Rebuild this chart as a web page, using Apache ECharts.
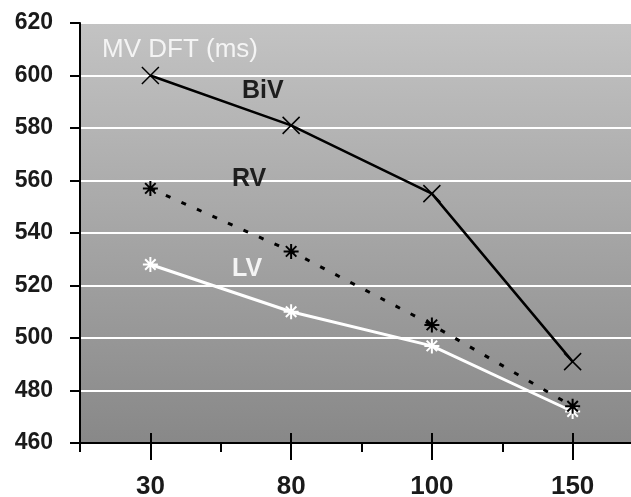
<!DOCTYPE html>
<html>
<head>
<meta charset="utf-8">
<script src="https://cdn.jsdelivr.net/npm/echarts@6/dist/echarts.min.js"></script>
<style>
  html, body { margin: 0; padding: 0; background: #fff; }
  #main { width: 631px; height: 497px; }
</style>
</head>
<body>
<div id="main"></div>
<script>
// data
var categories = ['30', '80', '100', '150'];
var bivData = [600, 581, 555, 491];
var rvData = [557, 533, 505, 474];
var lvData = [528, 510, 497, 472];
var yTicks = { min: 460, max: 620, step: 20 };

var crossPath = 'path://M0,0L10,10M10,0L0,10';
var starPath = 'path://M5,0L5,10M0,5L10,5M1.5,1.5L8.5,8.5M8.5,1.5L1.5,8.5';

var chart = echarts.init(document.getElementById('main'));

var labelFont = 'Liberation Sans, Arial, sans-serif';

// three category axes on the bottom: labels + long ticks, inner part of long ticks, short boundary ticks
function xAxisBase() {
  return {
    type: 'category',
    data: categories,
    position: 'bottom',
    boundaryGap: true,
    axisLine: { show: false, onZero: false },
    axisLabel: { show: false },
    axisTick: { show: false },
    splitLine: { show: false }
  };
}

var xMain = xAxisBase();
xMain.axisLine = { show: true, onZero: false, lineStyle: { color: '#000', width: 2 } };
xMain.axisLabel = { show: true, color: '#1a1a1a', fontFamily: labelFont, fontWeight: 'bold', fontSize: 26, margin: 31 };
xMain.axisTick = { show: true, alignWithLabel: true, length: 17, lineStyle: { color: '#000', width: 2 } };

var xInner = xAxisBase();
xInner.axisTick = { show: true, alignWithLabel: true, inside: true, length: 10, lineStyle: { color: '#000', width: 2 } };

var xMinor = xAxisBase();
xMinor.axisTick = { show: true, length: 9, lineStyle: { color: '#000', width: 2 } };

var option = {
  animation: false,
  grid: {
    left: 80,
    width: 563,
    top: 23,
    bottom: 54,
    outerBoundsMode: 'none',
    containLabel: false,
    show: true,
    borderWidth: 0,
    backgroundColor: new echarts.graphic.LinearGradient(0, 0, 0, 1, [
      { offset: 0, color: '#c3c3c3' },
      { offset: 1, color: '#888888' }
    ])
  },
  xAxis: [xMain, xInner, xMinor],
  yAxis: {
    type: 'value',
    min: yTicks.min,
    max: yTicks.max,
    interval: yTicks.step,
    axisLine: { show: true, lineStyle: { color: '#000', width: 2 } },
    axisTick: { show: true, length: 10, lineStyle: { color: '#000', width: 2 } },
    axisLabel: { color: '#1a1a1a', fontFamily: labelFont, fontWeight: 'bold', fontSize: 23, margin: 27 },
    splitLine: { show: true, lineStyle: { color: '#ffffff', width: 2 } }
  },
  series: [
    {
      name: 'BiV',
      type: 'line',
      data: bivData,
      symbol: crossPath,
      symbolSize: 17,
      lineStyle: { color: '#000', width: 2.5 },
      itemStyle: { color: 'rgba(0,0,0,0)', borderColor: '#000', borderWidth: 1.5 },
      z: 4
    },
    {
      name: 'RV',
      type: 'line',
      data: rvData,
      symbol: starPath,
      symbolSize: 15,
      lineStyle: { color: '#000', width: 3, type: [5, 12] },
      itemStyle: { color: 'rgba(0,0,0,0)', borderColor: '#000', borderWidth: 2 },
      z: 3
    },
    {
      name: 'LV',
      type: 'line',
      data: lvData,
      symbol: starPath,
      symbolSize: 15,
      lineStyle: { color: '#fff', width: 3 },
      itemStyle: { color: 'rgba(0,0,0,0)', borderColor: '#fff', borderWidth: 2 },
      z: 2
    }
  ],
  graphic: [
    { type: 'text', left: 102, top: 37, z: 10,
      style: { text: 'MV DFT (ms)', fill: '#f4f4f4', font: '26px ' + labelFont } },
    { type: 'text', left: 242, top: 79, z: 10,
      style: { text: 'BiV', fill: '#1e1e1e', font: 'bold 25px ' + labelFont } },
    { type: 'text', left: 232, top: 167, z: 10,
      style: { text: 'RV', fill: '#1e1e1e', font: 'bold 25px ' + labelFont } },
    { type: 'text', left: 232, top: 257, z: 10,
      style: { text: 'LV', fill: '#f4f4f4', font: 'bold 25px ' + labelFont } }
  ]
};

chart.setOption(option);
</script>
</body>
</html>
